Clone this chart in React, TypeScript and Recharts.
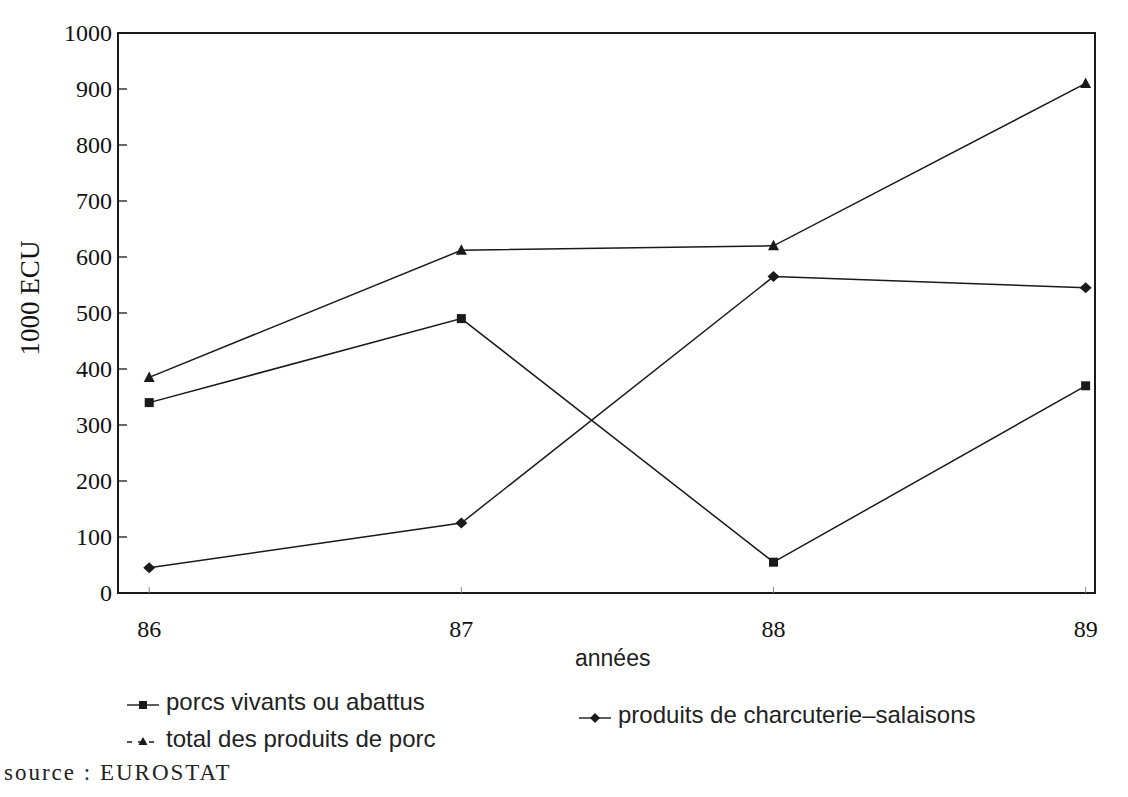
import React from 'react';
import { LineChart, Line, XAxis, YAxis, ReferenceArea } from 'recharts';

// années 1986-1989, valeurs en 1000 ECU
const years = [86, 87, 88, 89];
const porcsVivants = [340, 490, 55, 370];
const charcuterie = [45, 125, 565, 545];
const totalPorc = [385, 612, 620, 910];

const yTicks = [0, 100, 200, 300, 400, 500, 600, 700, 800, 900, 1000];
const xDomain: [number, number] = [85.9, 89.03];
const yDomain: [number, number] = [0, 1000];

const data = years.map((year, i) => ({
  year,
  porcs: porcsVivants[i],
  charcuterie: charcuterie[i],
  total: totalPorc[i],
}));

const INK = '#1a1a1a';
const serif = '"Liberation Serif", "DejaVu Serif", serif';
const sans = '"Liberation Sans", Arial, sans-serif';

const SquareDot = (props: any) => {
  const { cx, cy } = props;
  if (cx == null || cy == null) return null;
  return <rect x={cx - 4.5} y={cy - 4.5} width={9} height={9} fill={INK} />;
};

const TriangleDot = (props: any) => {
  const { cx, cy } = props;
  if (cx == null || cy == null) return null;
  return <polygon points={`${cx},${cy - 6} ${cx - 5.5},${cy + 4.5} ${cx + 5.5},${cy + 4.5}`} fill={INK} />;
};

const DiamondDot = (props: any) => {
  const { cx, cy } = props;
  if (cx == null || cy == null) return null;
  return <polygon points={`${cx},${cy - 5.5} ${cx + 6},${cy} ${cx},${cy + 5.5} ${cx - 6},${cy}`} fill={INK} />;
};

const YTick = (props: any) => {
  const { x, y, payload } = props;
  return (
    <g>
      <line x1={x} x2={x + 9} y1={y} y2={y} stroke={INK} strokeWidth={1.3} />
      <text x={x - 6} y={y} dy="0.35em" textAnchor="end" fontFamily={serif} fontSize={24} fill="#111">
        {payload.value}
      </text>
    </g>
  );
};

const XTick = (props: any) => {
  const { x, y, payload } = props;
  return (
    <g>
      <line x1={x} x2={x} y1={y - 6} y2={y} stroke="#888" strokeWidth={1} />
      <text x={x} y={y + 44} textAnchor="middle" fontFamily={serif} fontSize={24} fill="#111">
        {payload.value}
      </text>
    </g>
  );
};

const LegendMark: React.FC<{ shape: 'square' | 'triangle' | 'diamond'; dashed?: boolean }> = ({ shape, dashed }) => (
  <svg width={34} height={14} style={{ verticalAlign: 'middle', marginRight: 6 }}>
    <line x1={1} x2={33} y1={8} y2={8} stroke={INK} strokeWidth={1.4} strokeDasharray={dashed ? '5 6' : undefined} />
    {shape === 'square' && <rect x={13} y={4} width={8} height={8} fill={INK} />}
    {shape === 'triangle' && <polygon points="17,3 12.5,11 21.5,11" fill={INK} />}
    {shape === 'diamond' && <polygon points="17,3 22,8 17,13 12,8" fill={INK} />}
  </svg>
);

const textStyle: React.CSSProperties = {
  position: 'absolute',
  fontFamily: sans,
  fontSize: 24,
  color: '#222',
  whiteSpace: 'nowrap',
};

export default function App() {
  return (
    <div style={{ position: 'absolute', left: 0, top: 0, width: 1128, height: 797, background: '#fff' }}>
      <LineChart
        width={1128}
        height={700}
        data={data}
        margin={{ top: 33, right: 33, bottom: 0, left: 0 }}
      >
        <ReferenceArea
          x1={xDomain[0]}
          x2={xDomain[1]}
          y1={yDomain[0]}
          y2={yDomain[1]}
          fill="none"
          stroke={INK}
          strokeWidth={2}
        />
        <XAxis
          dataKey="year"
          type="number"
          domain={xDomain}
          ticks={years}
          allowDataOverflow
          height={107}
          axisLine={false}
          tickLine={false}
          tickSize={0}
          tickMargin={0}
          tick={<XTick />}
          interval={0}
        />
        <YAxis
          type="number"
          domain={yDomain}
          ticks={yTicks}
          width={118}
          axisLine={false}
          tickLine={false}
          tickSize={0}
          tickMargin={0}
          tick={<YTick />}
          interval={0}
        />
        <Line type="linear" dataKey="total" stroke={INK} strokeWidth={1.5} dot={<TriangleDot />} isAnimationActive={false} />
        <Line type="linear" dataKey="porcs" stroke={INK} strokeWidth={1.5} dot={<SquareDot />} isAnimationActive={false} />
        <Line type="linear" dataKey="charcuterie" stroke={INK} strokeWidth={1.5} dot={<DiamondDot />} isAnimationActive={false} />
      </LineChart>

      <div
        style={{
          position: 'absolute',
          left: 30,
          top: 298,
          transform: 'translate(-50%, -50%) rotate(-90deg)',
          fontFamily: serif,
          fontSize: 27,
          color: '#111',
          whiteSpace: 'nowrap',
        }}
      >
        1000 ECU
      </div>

      <div style={{ ...textStyle, left: 575, top: 645, fontSize: 23 }}>années</div>

      <div style={{ ...textStyle, left: 126, top: 688 }}>
        <LegendMark shape="square" />porcs vivants ou abattus
      </div>
      <div style={{ ...textStyle, left: 578, top: 701 }}>
        <LegendMark shape="diamond" />produits de charcuterie–salaisons
      </div>
      <div style={{ ...textStyle, left: 126, top: 725 }}>
        <LegendMark shape="triangle" dashed />total des produits de porc
      </div>
      <div style={{ ...textStyle, left: 4, top: 760, fontFamily: serif, fontSize: 23, letterSpacing: 2 }}>
        source : EUROSTAT
      </div>
    </div>
  );
}
